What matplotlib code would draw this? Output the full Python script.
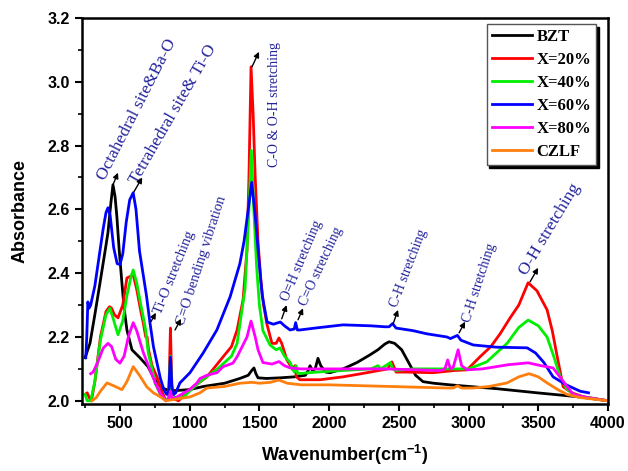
import matplotlib
matplotlib.use('Agg')
import matplotlib.pyplot as plt

plt.rcParams['mathtext.fontset'] = 'custom'
plt.rcParams['mathtext.bf'] = 'Liberation Sans:bold'
plt.rcParams['mathtext.default'] = 'bf'

# ---- data ----
bzt_x = [250, 285, 320, 357, 390, 414, 435, 450, 465, 478, 495, 514, 530, 550, 586, 643, 701, 751, 801,
         850, 900, 1000, 1100, 1250, 1360, 1420, 1445, 1461, 1475, 1490, 1550, 1650, 1750, 1830, 1850,
         1863, 1880, 1900, 1920, 1940, 1975, 2006, 2100, 2200, 2293, 2350, 2400, 2430, 2470, 2520, 2570,
         2620, 2673, 2750, 2867, 3000, 3200, 3491, 3800, 4000]
bzt_y = [2.135, 2.18, 2.27, 2.37, 2.46, 2.527, 2.62, 2.677, 2.64, 2.577, 2.47, 2.37, 2.29, 2.222, 2.16,
         2.135, 2.107, 2.066, 2.04, 2.033, 2.032, 2.035, 2.045, 2.055, 2.07, 2.08, 2.095, 2.103, 2.085, 2.072,
         2.07, 2.072, 2.075, 2.08, 2.095, 2.11, 2.095, 2.1, 2.133, 2.11, 2.09, 2.088, 2.1, 2.12, 2.144, 2.16,
         2.178, 2.185, 2.18, 2.16, 2.12, 2.08, 2.06, 2.055, 2.05, 2.045, 2.038, 2.025, 2.012, 2.0]

x20_x = [250, 265, 280, 295, 320, 360, 400, 425, 440, 460, 486, 520, 550, 575, 595, 620, 650, 667, 685,
         695, 705, 730, 765, 800, 830, 850, 862, 872, 890, 920, 1000, 1124, 1240, 1300, 1340, 1383, 1411,
         1425, 1440, 1455, 1470, 1490, 1510, 1530, 1554, 1590, 1620, 1640, 1660, 1697, 1740, 1755, 1765,
         1790, 1935, 2100, 2270, 2420, 2450, 2480, 2550, 2745, 2900, 2989, 3082, 3160, 3226, 3298, 3360,
         3427, 3490, 3563, 3600, 3635, 3678, 3740, 3820, 4000]
x20_y = [2.02, 2.025, 2.01, 2.0, 2.06, 2.2, 2.28, 2.295, 2.29, 2.27, 2.26, 2.3, 2.385, 2.39, 2.395, 2.35,
         2.28, 2.245, 2.2, 2.2, 2.16, 2.11, 2.075, 2.03, 2.0, 2.01, 2.228, 2.05, 2.005, 2.0, 2.035, 2.075,
         2.138, 2.17, 2.222, 2.317, 2.473, 2.7, 3.047, 2.9, 2.7, 2.5, 2.38, 2.3, 2.24, 2.18, 2.18, 2.197,
         2.18, 2.128, 2.097, 2.11, 2.075, 2.066, 2.066, 2.075, 2.088, 2.1, 2.122, 2.09, 2.09, 2.088, 2.095,
         2.097, 2.138, 2.17, 2.21, 2.26, 2.3, 2.37, 2.345, 2.285, 2.22, 2.14, 2.044, 2.025, 2.013, 2.0]

x40_x = [250, 265, 290, 320, 360, 400, 428, 450, 486, 520, 550, 580, 595, 620, 650, 667, 685, 703, 730,
         751, 790, 830, 850, 862, 872, 890, 950, 1074, 1200, 1300, 1340, 1397, 1425, 1442, 1460, 1480,
         1500, 1525, 1576, 1620, 1648, 1680, 1720, 1750, 1762, 1775, 1913, 2100, 2300, 2350, 2370, 2440,
         2455, 2480, 2600, 2800, 2900, 3000, 3130, 3200, 3276, 3360, 3427, 3500, 3563, 3610, 3656, 3700,
         3750, 3850, 4000]
x40_y = [2.02, 2.0, 2.0, 2.06, 2.19, 2.27, 2.29, 2.26, 2.207, 2.25, 2.33, 2.39, 2.41, 2.37, 2.3, 2.263,
         2.22, 2.15, 2.1, 2.056, 2.02, 2.0, 2.01, 2.14, 2.03, 2.01, 2.01, 2.06, 2.1, 2.14, 2.18, 2.35, 2.6,
         2.785, 2.6, 2.42, 2.3, 2.22, 2.175, 2.16, 2.166, 2.14, 2.12, 2.09, 2.11, 2.085, 2.09, 2.095, 2.1,
         2.11, 2.1, 2.12, 2.1, 2.095, 2.1, 2.1, 2.1, 2.1, 2.122, 2.15, 2.18, 2.23, 2.253, 2.235, 2.2, 2.14,
         2.076, 2.04, 2.02, 2.01, 2.0]

x60_x = [255, 262, 270, 278, 290, 320, 350, 380, 400, 414, 430, 455, 480, 500, 520, 545, 570, 595, 615,
         640, 665, 690, 715, 740, 765, 790, 815, 835, 850, 862, 873, 885, 900, 930, 1002, 1097, 1195, 1290,
         1360, 1390, 1420, 1445, 1470, 1495, 1520, 1555, 1600, 1650, 1680, 1720, 1750, 1760, 1772, 1790,
         1900, 2100, 2300, 2400, 2430, 2455, 2480, 2600, 2700, 2845, 2870, 2895, 2920, 2945, 3033, 3200,
         3420, 3480, 3540, 3606, 3700, 3800, 3860]
x60_y = [2.135, 2.2, 2.31, 2.29, 2.3, 2.36, 2.45, 2.54, 2.59, 2.605, 2.58, 2.48, 2.43, 2.427, 2.46, 2.56,
         2.63, 2.652, 2.6, 2.47, 2.4, 2.33, 2.245, 2.17, 2.12, 2.07, 2.035, 2.02, 2.03, 2.137, 2.04, 2.02,
         2.025, 2.056, 2.088, 2.15, 2.222, 2.326, 2.43, 2.5, 2.6, 2.685, 2.58, 2.45, 2.33, 2.247, 2.24,
         2.247, 2.235, 2.222, 2.225, 2.245, 2.222, 2.222, 2.228, 2.238, 2.235, 2.232, 2.232, 2.242, 2.228,
         2.22, 2.21, 2.2, 2.195, 2.2, 2.205, 2.19, 2.175, 2.168, 2.166, 2.15, 2.12, 2.075, 2.05, 2.03, 2.025]

x80_x = [290, 307, 340, 380, 414, 440, 470, 500, 530, 560, 595, 620, 667, 715, 750, 787, 830, 850, 862,
         875, 900, 1000, 1052, 1074, 1124, 1195, 1240, 1310, 1340, 1411, 1440, 1470, 1490, 1525, 1590,
         1640, 1680, 1720, 1800, 2000, 2400, 2800, 2830, 2850, 2870, 2890, 2925, 2950, 2990, 3100, 3283,
         3427, 3520, 3606, 3680, 3750, 3850, 4000]
x80_y = [2.085, 2.09, 2.12, 2.165, 2.18, 2.17, 2.13, 2.118, 2.14, 2.2, 2.245, 2.22, 2.152, 2.097, 2.06,
         2.025, 2.0, 2.005, 2.03, 2.005, 2.01, 2.035, 2.056, 2.07, 2.08, 2.088, 2.107, 2.118, 2.138, 2.2,
         2.25, 2.2, 2.16, 2.12, 2.115, 2.123, 2.11, 2.103, 2.1, 2.1, 2.1, 2.095, 2.1, 2.128, 2.1, 2.105,
         2.16, 2.11, 2.097, 2.1, 2.113, 2.119, 2.11, 2.103, 2.06, 2.02, 2.01, 2.0]

czlf_x = [300, 330, 360, 407, 450, 514, 550, 595, 640, 692, 740, 787, 830, 870, 900, 1002, 1074, 1124,
          1250, 1360, 1447, 1500, 1580, 1640, 1700, 1800, 2000, 2509, 2850, 2890, 2920, 2950, 3030, 3150,
          3276, 3360, 3434, 3500, 3563, 3640, 3706, 3800, 4000]
czlf_y = [2.0, 2.01, 2.03, 2.056, 2.048, 2.035, 2.06, 2.107, 2.08, 2.044, 2.025, 2.013, 2.0, 2.003, 2.005,
          2.012, 2.025, 2.04, 2.045, 2.055, 2.058, 2.055, 2.058, 2.065, 2.055, 2.05, 2.05, 2.044, 2.04, 2.04,
          2.047, 2.04, 2.04, 2.045, 2.056, 2.075, 2.085, 2.075, 2.056, 2.035, 2.02, 2.01, 2.0]

series = [('BZT', bzt_x, bzt_y, 'black'),
          ('X=20%', x20_x, x20_y, '#ff0000'),
          ('X=40%', x40_x, x40_y, '#00ee00'),
          ('X=60%', x60_x, x60_y, '#0000ff'),
          ('X=80%', x80_x, x80_y, '#ff00ff'),
          ('CZLF', czlf_x, czlf_y, '#ff7f0e')]

# label text, text anchor (x, y), rotation, fontsize, arrow tail, arrow head
notes = [('Octahedral site&Ba-O', (390, 2.69), 63, 12.5, (450, 2.677), (486, 2.715)),
         ('Tetrahedral site& Ti-O', (625, 2.675), 60, 12.5, (600, 2.655), (660, 2.70)),
         ('C-O & O-H stretching', (1633, 2.733), 90, 10, (1447, 3.047), (1497, 3.094)),
         ('Ti-O stretching', (798, 2.27), 68, 10.5, (722, 2.248), (758, 2.276)),
         ('C=O bending vibration', (962, 2.235), 72, 10.5, (895, 2.222), (938, 2.257)),
         ('O=H stretching', (1705, 2.31), 67, 10, (1660, 2.257), (1695, 2.30)),
         ('C=O stretching', (1834, 2.295), 65, 10, (1777, 2.254), (1813, 2.29)),
         ('C-H stretching', (2487, 2.29), 69, 10, (2458, 2.24), (2494, 2.285)),
         ('C-H stretching', (3011, 2.243), 72, 10, (2932, 2.213), (2975, 2.248)),
         ('O-H stretching', (3413, 2.39), 59, 12.5, (3441, 2.373), (3499, 2.417))]

fig = plt.figure(figsize=(6.28, 4.71), dpi=100)
ax = fig.add_axes([0.1306, 0.1423, 0.8376, 0.8195])

for name, xs, ys, c in series:
    ax.plot(xs, ys, color=c, lw=2, label=name, solid_joinstyle='round')

for txt, pos, rot, fs, tail, head in notes:
    ax.text(pos[0], pos[1], txt, rotation=rot, rotation_mode='anchor', ha='left', va='baseline',
            color='#22229c', fontsize=fs, family='Liberation Serif')
    ax.annotate('', xy=head, xytext=tail,
                arrowprops=dict(arrowstyle='-|>', color='black', lw=1, mutation_scale=8,
                                shrinkA=0, shrinkB=0))

ax.set_xlim(228, 4000)
ax.set_ylim(1.99, 3.2)
ax.set_xticks([500, 1000, 1500, 2000, 2500, 3000, 3500, 4000])
ax.set_xticks(range(250, 4000, 250), minor=True)
ax.set_yticks([2.0, 2.2, 2.4, 2.6, 2.8, 3.0, 3.2])
ax.set_yticks([2.1, 2.3, 2.5, 2.7, 2.9, 3.1], minor=True)
ax.yaxis.set_major_formatter(matplotlib.ticker.FormatStrFormatter('%.1f'))
ax.tick_params(which='major', direction='out', length=5, width=1.5, labelsize=11.5)
ax.tick_params(which='minor', direction='out', length=3, width=1.2)
for lab in ax.get_xticklabels() + ax.get_yticklabels():
    lab.set_fontweight('bold')
    lab.set_family('Liberation Sans')
for sp in ax.spines.values():
    sp.set_linewidth(1.8)

ax.set_xlabel('Wavenumber(cm$^{-1}$)', fontsize=13, fontweight='bold', family='Liberation Sans',
              labelpad=9)
ax.set_ylabel('Absorbance', fontsize=13, fontweight='bold', family='Liberation Sans', labelpad=14)

leg = ax.legend(loc='upper right', bbox_to_anchor=(0.978, 0.985), borderaxespad=0,
                prop={'family': 'Liberation Serif', 'weight': 'bold', 'size': 12},
                fancybox=False, edgecolor='#555555', framealpha=1, labelspacing=0.42,
                handlelength=2.4, handletextpad=0.3, borderpad=0.3,
                shadow={'color': 'black', 'alpha': 1})
leg.get_frame().set_linewidth(1)

fig.savefig('out.png', dpi=100)
